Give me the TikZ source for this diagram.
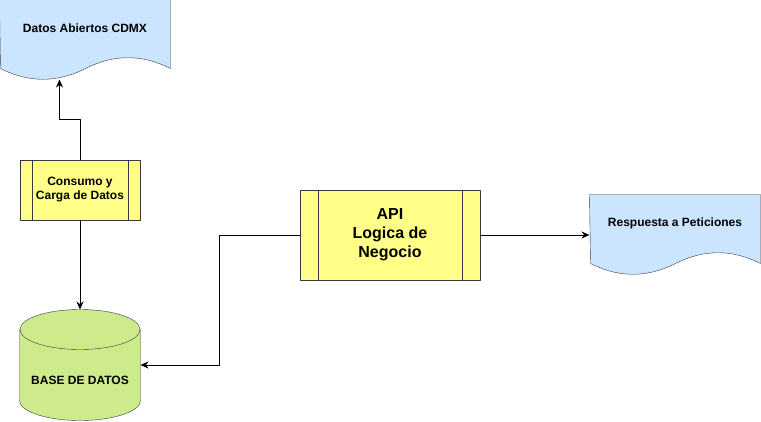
\documentclass[tikz,border=0pt]{standalone}
\usepackage{fontspec}
\setmainfont{Liberation Sans}
\usetikzlibrary{calc,arrows.meta,backgrounds}
\definecolor{docblue}{HTML}{CCE5FF}
\definecolor{procyellow}{HTML}{FFFF88}
\definecolor{dbgreen}{HTML}{CDEB8B}
\definecolor{edgegray}{HTML}{36393D}
% document shape with a wavy lower edge, drawn round a named node
\newcommand{\wavedoc}[1]{%
  \draw[docline] (#1.north west) -- (#1.north east) -- ($(#1.south east)+(0,12)$)
    .. controls +(-28.3,-14.4) and +(28.3,-14.4) .. ++(-85,0)
    .. controls +(-28.3,14.4) and +(28.3,14.4) .. ++(-85,0) -- cycle;}
\begin{document}
\begin{tikzpicture}[x=1pt, y=-1pt, line cap=round, line join=round, line width=1pt,
    font=\fontsize{12}{14}\selectfont\bfseries,
    arr/.style={-{Stealth[length=8pt,width=7pt]}, black},
    docline/.style={draw=edgegray, fill=docblue},
    docbox/.style={minimum width=170pt, minimum height=56pt, inner sep=0pt},
    procbox/.style={draw=edgegray, fill=procyellow, inner sep=0pt, align=center,
      path picture={
        \draw[edgegray] ([xshift=#1]path picture bounding box.north west) -- ([xshift=#1]path picture bounding box.south west);
        \draw[edgegray] ([xshift=-#1]path picture bounding box.north east) -- ([xshift=-#1]path picture bounding box.south east);}}]
  \useasboundingbox (0,0) rectangle (761,421);
  \tikzset{dbline/.style={draw=edgegray, fill=dbgreen}}

  \node[docbox] (abiertos) at (85,28) {Datos Abiertos CDMX};
  \node[docbox] (respuesta) at (675,223) {Respuesta a Peticiones};
  \node[procbox=12pt, minimum width=120pt, minimum height=60pt] (consumo) at (80,190) {Consumo y\\Carga de Datos};
  \node[procbox=18pt, minimum width=180pt, minimum height=90pt, font=\fontsize{16}{19}\selectfont\bfseries] (api) at (390,235) {API\\Logica de\\Negocio};
  \node[minimum width=120pt, minimum height=110pt, inner sep=0pt] (basedatos) at (80,365) {};
  \node (basetexto) at ([yshift=-15pt]basedatos.center) {BASE DE DATOS};

  \begin{scope}[on background layer]
    \wavedoc{abiertos}
    \wavedoc{respuesta}
    \draw[dbline] ($(basedatos.north west)+(0,20)$) -- ($(basedatos.south west)+(0,-20)$)
      .. controls +(0,11.05) and +(-33.14,0) .. (basedatos.south)
      .. controls +(33.14,0) and +(0,11.05) .. ($(basedatos.south east)+(0,-20)$)
      -- ($(basedatos.north east)+(0,20)$) -- cycle;
    \draw[dbline] ($(basedatos.north)+(0,20)$) ellipse [x radius=60pt, y radius=20pt];
  \end{scope}

  \coordinate (abiertosfin) at ($(abiertos.south west)+(60,23)$);
  \draw[arr] (consumo.north) -- ++(0,-40) -| (abiertosfin);
  \draw[arr] (consumo.south) -- (basedatos.north);
  \draw[arr] (api.west) -- ++(-80,0) |- (basedatos.east);
  \draw[arr] (api.east) -- (api.east -| respuesta.west);
\end{tikzpicture}
\end{document}
